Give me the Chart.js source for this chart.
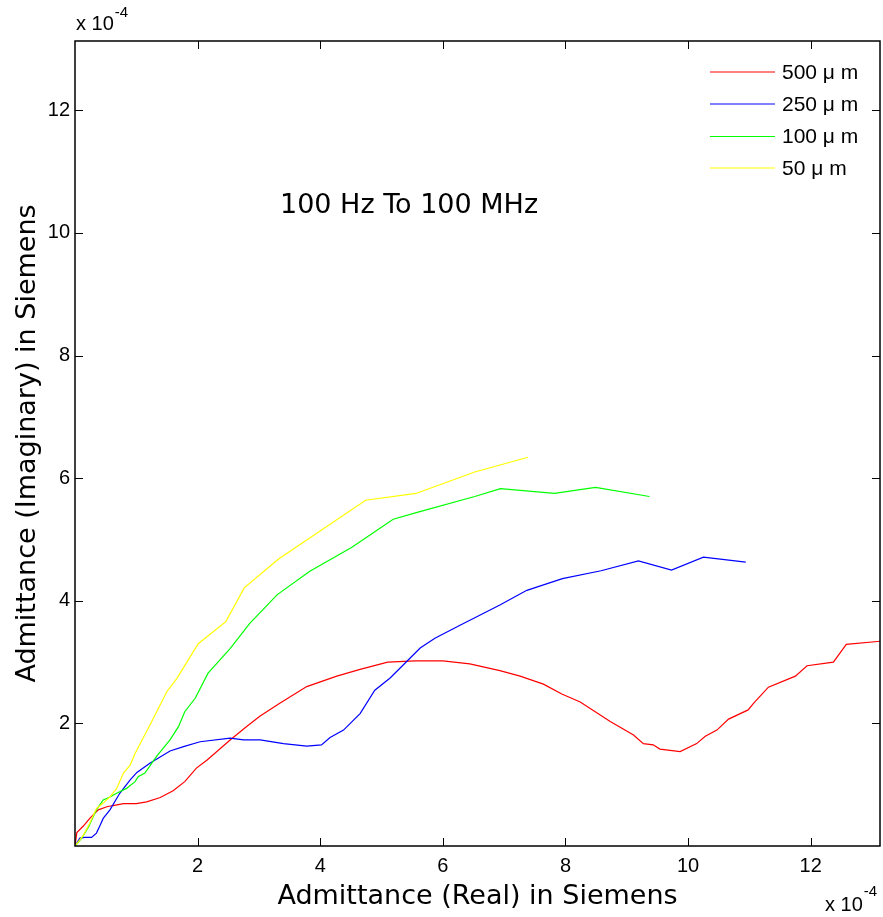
<!DOCTYPE html>
<html>
<head>
<meta charset="utf-8">
<script src="https://cdn.jsdelivr.net/npm/chart.js@4/dist/chart.umd.min.js"></script>
<style>
html,body{margin:0;padding:0;background:#fff;}
#wrap{width:883px;height:917px;position:relative;}
</style>
</head>
<body>
<div id="wrap"><canvas id="c" width="883" height="917"></canvas></div>
<script>
// ---- Data (units of 1e-4 Siemens) ----
const seriesNames = ["500 \u03bc m", "250 \u03bc m", "100 \u03bc m", "50 \u03bc m"];
const seriesColors = ["#ff0000", "#0000ff", "#00ff00", "#ffff00"];

const red_x = [0, 0.03, 0.14, 0.24, 0.38, 0.52, 0.62, 0.79, 1.0, 1.17, 1.39, 1.60, 1.79, 1.98, 2.15, 2.53, 2.80, 3.02, 3.34, 3.78, 4.27, 4.65, 5.1, 5.55, 6.0, 6.44, 6.93, 7.26, 7.64, 7.94, 8.24, 8.73, 9.11, 9.27, 9.43, 9.54, 9.87, 10.14, 10.28, 10.47, 10.66, 10.98, 11.07, 11.31, 11.75, 11.94, 12.37, 12.58, 13.13];
const red_y = [0, 0.22, 0.33, 0.45, 0.59, 0.64, 0.66, 0.69, 0.69, 0.72, 0.79, 0.90, 1.05, 1.27, 1.40, 1.73, 1.95, 2.12, 2.33, 2.60, 2.77, 2.88, 3.0, 3.02, 3.02, 2.97, 2.86, 2.77, 2.64, 2.48, 2.35, 2.03, 1.81, 1.67, 1.65, 1.58, 1.54, 1.67, 1.79, 1.89, 2.07, 2.22, 2.33, 2.59, 2.77, 2.94, 3.0, 3.29, 3.34];

const blue_x = [0, 0.08, 0.16, 0.27, 0.35, 0.41, 0.46, 0.57, 0.73, 0.90, 1.01, 1.22, 1.55, 1.77, 2.04, 2.53, 2.75, 3.02, 3.40, 3.78, 4.02, 4.16, 4.38, 4.65, 4.89, 5.14, 5.63, 5.87, 6.28, 6.93, 7.37, 7.95, 8.58, 9.19, 9.73, 10.25, 10.94];
const blue_y = [0, 0.13, 0.14, 0.14, 0.21, 0.34, 0.45, 0.59, 0.86, 1.08, 1.20, 1.35, 1.55, 1.62, 1.70, 1.76, 1.73, 1.73, 1.67, 1.63, 1.65, 1.77, 1.89, 2.16, 2.54, 2.74, 3.23, 3.39, 3.60, 3.93, 4.17, 4.36, 4.49, 4.65, 4.50, 4.71, 4.63];

const green_x = [0, 0.11, 0.22, 0.35, 0.46, 0.57, 0.68, 0.84, 0.98, 1.03, 1.14, 1.33, 1.55, 1.69, 1.79, 1.96, 2.17, 2.53, 2.85, 3.30, 3.83, 4.51, 5.19, 5.61, 6.52, 6.94, 7.82, 8.49, 9.37];
const green_y = [0, 0.13, 0.31, 0.59, 0.75, 0.80, 0.86, 0.94, 1.05, 1.13, 1.19, 1.46, 1.73, 1.95, 2.19, 2.41, 2.82, 3.22, 3.63, 4.10, 4.48, 4.87, 5.33, 5.45, 5.70, 5.83, 5.75, 5.85, 5.70];

const yellow_x = [0, 0.08, 0.14, 0.24, 0.35, 0.46, 0.57, 0.68, 0.79, 0.90, 0.98, 1.22, 1.50, 1.66, 2.01, 2.46, 2.76, 3.32, 4.74, 5.56, 6.52, 7.39];
const yellow_y = [0, 0.10, 0.18, 0.37, 0.61, 0.70, 0.80, 0.94, 1.19, 1.32, 1.51, 1.97, 2.52, 2.73, 3.30, 3.66, 4.21, 4.68, 5.64, 5.75, 6.10, 6.34];

const tickValues = [2, 4, 6, 8, 10, 12];
const axisMax = 13.13;
const xTitle = "Admittance (Real) in Siemens";
const yTitle = "Admittance (Imaginary) in Siemens";
const annotationText = "100 Hz To 100 MHz";

// ---- Build datasets ----
function pts(xs, ys){ return xs.map((x,i)=>({x:x, y:ys[i]})); }
const allX = [red_x, blue_x, green_x, yellow_x];
const allY = [red_y, blue_y, green_y, yellow_y];
const datasets = allX.map((xs,i)=>({
  label: seriesNames[i],
  data: pts(xs, allY[i]),
  borderColor: seriesColors[i],
  backgroundColor: seriesColors[i],
  borderWidth: 1.2,
  pointRadius: 0,
  showLine: true,
  fill: false,
  tension: 0,
  order: 4 - i
}));

const TICKFONT = {family: "'Liberation Sans', Arial, sans-serif", size: 20};
const TITLEFONT = {family: "'DejaVu Sans', Verdana, sans-serif", size: 27};

const decor = {
  id: 'decor',
  afterDatasetsDraw(chart){
    const ctx = chart.ctx;
    const a = chart.chartArea;
    const xs = chart.scales.x, ys = chart.scales.y;
    ctx.save();
    // box
    ctx.strokeStyle = '#000';
    ctx.lineWidth = 1.5;
    ctx.strokeRect(a.left, a.top, a.right - a.left, a.bottom - a.top);
    // inside ticks
    ctx.lineWidth = 1;
    const tl = 8;
    ctx.beginPath();
    tickValues.forEach(v=>{
      const px = Math.round(xs.getPixelForValue(v)) + 0.5;
      ctx.moveTo(px, a.bottom); ctx.lineTo(px, a.bottom - tl);
      ctx.moveTo(px, a.top); ctx.lineTo(px, a.top + tl);
      const py = Math.round(ys.getPixelForValue(v)) + 0.5;
      ctx.moveTo(a.left, py); ctx.lineTo(a.left + tl, py);
      ctx.moveTo(a.right, py); ctx.lineTo(a.right - tl, py);
    });
    ctx.stroke();

    // exponent labels
    ctx.fillStyle = '#000';
    ctx.textBaseline = 'middle';
    ctx.textAlign = 'left';
    ctx.font = "20px 'Liberation Sans', Arial, sans-serif";
    ctx.fillText("x 10", 76, 24);
    let w = ctx.measureText("x 10").width;
    ctx.font = "15px 'Liberation Sans', Arial, sans-serif";
    ctx.fillText("-4", 76 + w + 1, 13);
    ctx.font = "20px 'Liberation Sans', Arial, sans-serif";
    ctx.fillText("x 10", 825, 905);
    w = ctx.measureText("x 10").width;
    ctx.font = "15px 'Liberation Sans', Arial, sans-serif";
    ctx.fillText("-4", 825 + w + 1, 892);

    // annotation
    ctx.font = "27px 'DejaVu Sans', Verdana, sans-serif";
    ctx.textAlign = 'left';
    ctx.fillText(annotationText, 280, 206);

    // legend
    const rows = [72, 104, 136.5, 168];
    ctx.font = "21px 'Liberation Sans', Arial, sans-serif";
    chart.data.datasets.forEach((ds,i)=>{
      ctx.strokeStyle = ds.borderColor;
      ctx.lineWidth = 1.2;
      ctx.beginPath();
      ctx.moveTo(710, rows[i]); ctx.lineTo(775, rows[i]);
      ctx.stroke();
      ctx.fillStyle = '#000';
      ctx.fillText(ds.label, 782, rows[i] + 1);
    });
    ctx.restore();
  }
};

new Chart(document.getElementById('c'), {
  type: 'scatter',
  data: { datasets },
  options: {
    responsive: false,
    animation: false,
    devicePixelRatio: 1,
    layout: { padding: { top: 41, right: 3, left: 0, bottom: 0 } },
    plugins: { legend: { display: false }, tooltip: { enabled: false } },
    scales: {
      x: {
        type: 'linear', min: 0, max: axisMax,
        afterFit(s){ s.height = 71; },
        border: { display: false },
        grid: { display: false, drawTicks: false },
        ticks: {
          stepSize: 2, includeBounds: false, font: TICKFONT, color: '#000', padding: 8, maxRotation: 0,
          callback: v => (v === 0 ? '' : v)
        },
        title: { display: true, text: xTitle, color: '#000', font: TITLEFONT, padding: {top: 0, bottom: 4} }
      },
      y: {
        type: 'linear', min: 0, max: axisMax,
        afterFit(s){ s.width = 75; },
        border: { display: false },
        grid: { display: false, drawTicks: false },
        ticks: {
          stepSize: 2, includeBounds: false, font: TICKFONT, color: '#000', padding: 5,
          callback: v => (v === 0 ? '' : v)
        },
        title: { display: true, text: yTitle, color: '#000', font: TITLEFONT, padding: {top: 12, bottom: 0} }
      }
    }
  },
  plugins: [decor]
});
</script>
</body>
</html>
